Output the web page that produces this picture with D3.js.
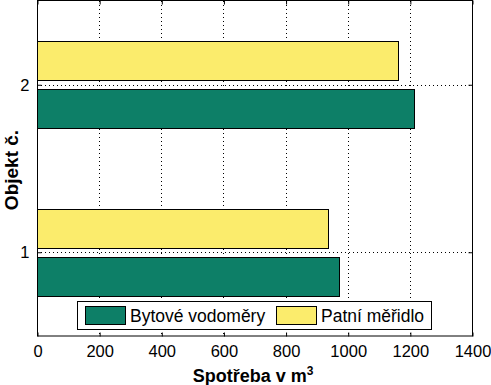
<!DOCTYPE html>
<html>
<head>
<meta charset="utf-8">
<script src="https://cdn.jsdelivr.net/npm/d3@7"></script>
<style>
  body { margin: 0; background: #fff; }
  text { font-family: "Liberation Sans", Arial, sans-serif; fill: #000; }
</style>
</head>
<body>
<div class="chart"></div>
<script>
var width = 491, height = 385;

// data
var objects = [1, 2];
var bytove = [972, 1213];   // Bytové vodoměry
var patni = [937, 1162];    // Patní měřidlo
var xTicks = [0, 200, 400, 600, 800, 1000, 1200, 1400];
var seriesNames = ["Bytové vodoměry", "Patní měřidlo"];
var colors = ["#0d7f67", "#fbec6c"];

var plotLeft = 37, plotRight = 472, plotTop = 1, plotBottom = 336;

var svg = d3.select('.chart')
  .append('svg')
  .attr('width', width)
  .attr('height', height);

var x = d3.scaleLinear().domain([0, 1400]).range([plotLeft, plotRight]);
var y = d3.scaleLinear().domain([0.5, 2.5]).range([plotBottom, plotTop]);

// grid
svg.append('g')
  .selectAll('line')
  .data(xTicks.slice(1, -1))
  .enter()
  .append('line')
  .attr('x1', function(d) { return Math.round(x(d)) + 0.5; })
  .attr('x2', function(d) { return Math.round(x(d)) + 0.5; })
  .attr('y1', plotTop)
  .attr('y2', plotBottom)
  .attr('stroke', '#000')
  .attr('stroke-dasharray', '1,3');

svg.append('g')
  .selectAll('line')
  .data(objects)
  .enter()
  .append('line')
  .attr('x1', plotLeft)
  .attr('x2', plotRight)
  .attr('y1', function(d) { return Math.round(y(d)) + 0.5; })
  .attr('y2', function(d) { return Math.round(y(d)) + 0.5; })
  .attr('stroke', '#000')
  .attr('stroke-dasharray', '1,3');

// bars
var gap = 0.027, outer = 0.26;

svg.append('g')
  .selectAll('rect')
  .data(objects)
  .enter()
  .append('rect')
  .attr('x', x(0) + 0.5)
  .attr('y', function(d) { return Math.round(y(d - gap)) + 0.5; })
  .attr('width', function(d, i) { return Math.round(x(bytove[i]) - x(0)); })
  .attr('height', function(d) { return Math.round(y(d - outer) - y(d - gap)); })
  .attr('fill', colors[0])
  .attr('stroke', '#000');

svg.append('g')
  .selectAll('rect')
  .data(objects)
  .enter()
  .append('rect')
  .attr('x', x(0) + 0.5)
  .attr('y', function(d) { return Math.round(y(d + outer)) + 0.5; })
  .attr('width', function(d, i) { return Math.round(x(patni[i]) - x(0)); })
  .attr('height', function(d) { return Math.round(y(d + gap) - y(d + outer)); })
  .attr('fill', colors[1])
  .attr('stroke', '#000');

// axes box
svg.append('rect')
  .attr('x', plotLeft + 0.5)
  .attr('y', 0.5)
  .attr('width', plotRight - plotLeft)
  .attr('height', plotBottom - 0.5)
  .attr('fill', 'none')
  .attr('stroke', '#000');

var xAxis = svg.append('g')
  .attr('transform', 'translate(0.5,' + (plotBottom + 0.5) + ')')
  .call(d3.axisBottom(x).tickValues(xTicks).tickFormat(d3.format('d'))
    .tickSizeInner(-4).tickSizeOuter(0).tickPadding(9));

var yAxis = svg.append('g')
  .attr('transform', 'translate(' + (plotLeft + 0.5) + ',0)')
  .call(d3.axisLeft(y).tickValues(objects).tickFormat(d3.format('d'))
    .tickSizeInner(-4).tickSizeOuter(0).tickPadding(8));

// ticks on top and right
svg.append('g')
  .attr('transform', 'translate(0.5,0.5)')
  .call(d3.axisTop(x).tickValues(xTicks).tickSizeInner(-4).tickSizeOuter(0).tickFormat(''));
svg.append('g')
  .attr('transform', 'translate(' + (plotRight + 0.5) + ',0)')
  .call(d3.axisRight(y).tickValues(objects).tickSizeInner(-4).tickSizeOuter(0).tickFormat(''));

svg.selectAll('.domain').remove();
svg.selectAll('.tick line').attr('stroke', '#000');
xAxis.selectAll('text').attr('font-size', 16.5).attr('font-family', '"Liberation Sans", Arial, sans-serif');
yAxis.selectAll('text').attr('font-size', 16.5).attr('font-family', '"Liberation Sans", Arial, sans-serif');

// axis labels
var xl = svg.append('text')
  .attr('x', 253)
  .attr('y', 382)
  .attr('text-anchor', 'middle')
  .attr('font-weight', 'bold')
  .attr('font-size', 18);
xl.append('tspan').text('Spotřeba v m');
xl.append('tspan').attr('dy', -7).attr('font-size', 12).text('3');

svg.append('text')
  .attr('transform', 'translate(18,170) rotate(-90)')
  .attr('text-anchor', 'middle')
  .attr('font-weight', 'bold')
  .attr('font-size', 19)
  .text('Objekt č.');

// legend
var legend = svg.append('g');
legend.append('rect')
  .attr('x', 77.5).attr('y', 301.5)
  .attr('width', 354).attr('height', 28)
  .attr('fill', '#fff').attr('stroke', '#000');

var legendX = [85, 276];
var item = legend.selectAll('.item')
  .data(seriesNames)
  .enter()
  .append('g')
  .attr('class', 'item')
  .attr('transform', function(d, i) { return 'translate(' + legendX[i] + ',0)'; });

item.append('rect')
  .attr('x', 0.5).attr('y', 306.5)
  .attr('width', 40).attr('height', 18)
  .attr('fill', function(d, i) { return colors[i]; })
  .attr('stroke', '#000');

item.append('text')
  .attr('x', 45)
  .attr('y', 322)
  .attr('font-size', 17.5)
  .text(function(d) { return d; });
</script>
</body>
</html>
